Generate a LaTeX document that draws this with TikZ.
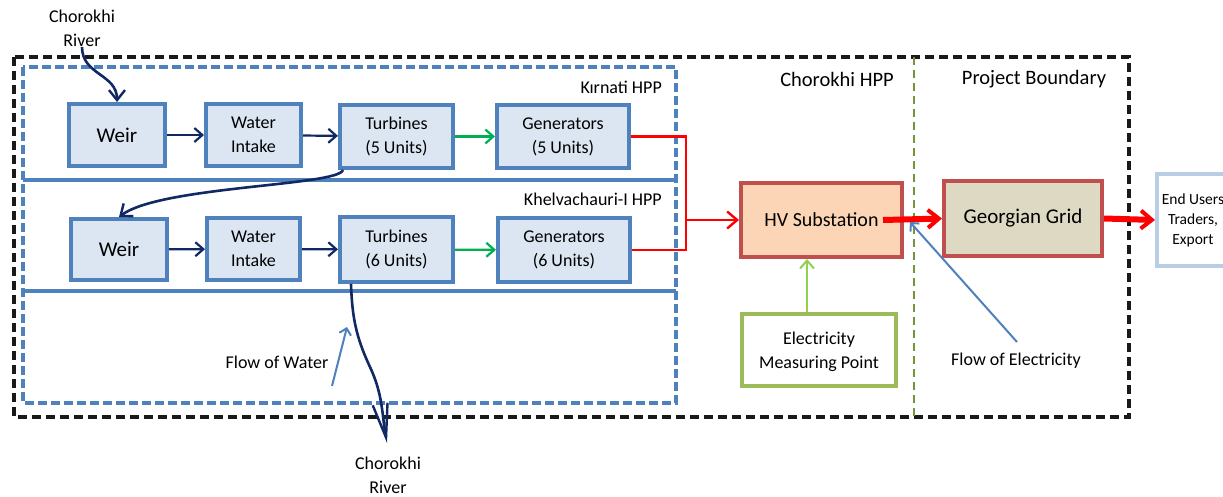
\documentclass[tikz,border=0pt]{standalone}
\usepackage{fontspec}
\setmainfont{Carlito}
\usetikzlibrary{arrows.meta}
\definecolor{boxblue}{HTML}{4F81BD}
\definecolor{boxfill}{HTML}{DCE6F2}
\definecolor{navy}{RGB}{16,40,100}
\definecolor{garrow}{HTML}{00B050}
\definecolor{lgarrow}{HTML}{92D050}
\definecolor{hvfill}{HTML}{FBD5B5}
\definecolor{redbrd}{HTML}{C0504D}
\definecolor{gridfill}{HTML}{DDD9C3}
\definecolor{empbrd}{HTML}{9BBB59}
\definecolor{endbrd}{HTML}{B9CDE5}
\definecolor{olivedash}{HTML}{77933C}
\newcommand\fsz[2]{\fontsize{#1}{#2}\selectfont}
\tikzset{
  pbox/.style={draw=boxblue, fill=boxfill, line width=4pt, align=center, inner sep=0pt, font=\fsz{18}{24}},
  lbl/.style={inner sep=0pt, align=center, font=\fsz{18}{24}},
  navyarrow/.style={draw=navy, line width=2.2pt, -{Straight Barb[length=8pt,width=14pt,line width=2.2pt]}},
  greenarrow/.style={draw=garrow, line width=2.2pt, -{Straight Barb[length=8pt,width=14pt,line width=2.2pt]}},
  river/.style={draw=navy, line width=2.6pt},
  redthin/.style={draw=red, line width=2.4pt},
  redthick/.style={draw=red, line width=6pt, -{Straight Barb[length=11pt,width=18pt,line width=4pt]}},
  flowarrow/.style={draw=boxblue, line width=2pt, -{Straight Barb[length=6pt,width=12pt,line width=2pt]}},
}
\begin{document}
\begin{tikzpicture}[x=1pt,y=-1pt]
\clip (0,0) rectangle (1223,497);
\fill[white] (0,0) rectangle (1223,497);

% boundaries
\draw[black!90, line width=3.6pt, dash pattern=on 9pt off 5pt] (14,57) rectangle (1129,417);
\draw[olivedash, line width=2.8pt, dash pattern=on 8pt off 5pt] (914,57) -- (914,417);
\draw[boxblue, line width=4pt, dash pattern=on 9pt off 4pt] (23,67) rectangle (676,403);
\draw[boxblue, line width=4pt] (23,180) -- (676,180);
\draw[boxblue, line width=4pt] (23,291) -- (676,291);

% labels of areas
\node[lbl, anchor=east] (kirnati) at (662,87) {Kırnati HPP};
\node[lbl, anchor=east] (khelva) at (662,199) {Khelvachauri-I HPP};
\node[lbl, font=\fsz{20.5}{24}] (chpp) at (837,79) {Chorokhi HPP};
\node[lbl, font=\fsz{20.5}{24}] (pb) at (1034,79) {Project Boundary};

% row A
\node[pbox, minimum width=96pt, minimum height=62pt, font=\fsz{21}{24}] (weirA) at (117,135) {Weir};
\node[pbox, minimum width=95pt, minimum height=62pt] (wiA) at (253.5,135) {Water\\Intake};
\node[pbox, minimum width=113pt, minimum height=63pt] (turA) at (396.5,136.5) {Turbines\\(5 Units)};
\node[pbox, minimum width=132pt, minimum height=63pt] (genA) at (563,136.5) {Generators\\(5 Units)};
% row B
\node[pbox, minimum width=96pt, minimum height=61pt, font=\fsz{21}{24}] (weirB) at (119,249.5) {Weir};
\node[pbox, minimum width=93pt, minimum height=62pt] (wiB) at (253.5,249) {Water\\Intake};
\node[pbox, minimum width=113pt, minimum height=65pt] (turB) at (396.5,249.5) {Turbines\\(6 Units)};
\node[pbox, minimum width=132pt, minimum height=64pt] (genB) at (564,250) {Generators\\(6 Units)};

% right side
\node[draw=redbrd, fill=hvfill, line width=4pt, minimum width=161pt, minimum height=74pt, inner sep=0pt, font=\fsz{20}{24}] (hv) at (821.5,220) {HV Substation};
\node[draw=redbrd, fill=gridfill, line width=4pt, minimum width=158pt, minimum height=75pt, inner sep=0pt, font=\fsz{21}{24}] (grid) at (1023,218.5) {Georgian Grid};
\node[draw=empbrd, fill=white, line width=4pt, minimum width=154pt, minimum height=72pt, inner sep=0pt, align=center, font=\fsz{18}{24}] (emp) at (819,350) {\strut Electricity\\Measuring Point};
\node[draw=endbrd, fill=white, line width=4pt, minimum width=110pt, minimum height=92pt, inner sep=0pt] (endu) at (1212,220) {};
\node[lbl, font=\fsz{15.5}{20}] (endtxt) at (1193,220) {End Users\\Traders,\\Export};

% river labels
\node[lbl] (rivtop) at (82,28) {Chorokhi\\River};
\node[lbl] (rivbot) at (388,475) {Chorokhi\\River};
\node[lbl] (fwater) at (277,362) {Flow of Water};
\node[lbl] (felec) at (1016,361) {Flow of Electricity};

% water flow connectors
\draw[navyarrow] (weirA) -- (wiA);
\draw[navyarrow] (wiA) -- (turA);
\draw[greenarrow] (turA) -- (genA);
\draw[navyarrow] (weirB) -- (wiB);
\draw[navyarrow] (wiB) -- (turB);
\draw[greenarrow] (turB) -- (genB);

\coordinate (rin) at (82,47);
\draw[river, -{Straight Barb[length=10pt,width=16pt,line width=2.4pt]}] (rin) to[out=-90,in=90, looseness=1.1] (weirA.north);
\coordinate (tA) at (343,170);
\draw[river, -{Straight Barb[length=10pt,width=16pt,line width=2.4pt]}] (tA) .. controls (338,186) and (160,186) .. (weirB.north);
\coordinate (tB) at (351,284);
\coordinate (rmid) at (370,367);
\coordinate (rout) at (387,443);
\draw[river, -{Straight Barb[length=34pt,width=15pt,line width=2.4pt]}] (tB) to[out=-88,in=115] (rmid) to[out=-65,in=100] (rout);

% electricity connectors
\coordinate (j) at (686,220);
\draw[redthin] (genA.east) -| (j) |- (genB.east);
\draw[redthin, -{Straight Barb[length=10pt,width=17pt,line width=2.4pt]}] (j) -- (hv.west);
\draw[redthick] ([xshift=-21pt]hv.east) -- (grid.west);
\draw[redthick] (grid.east) -- (endu.west);
\draw[draw=lgarrow, line width=2pt, -{Straight Barb[length=8pt,width=14pt,line width=2pt]}] (emp.north -| 807,0) -- (hv.south -| 807,0);

% flow labels arrows
\coordinate (fw1) at (332,386);
\coordinate (fw2) at (347,327);
\draw[flowarrow] (fw1) -- (fw2);
\coordinate (fe1) at (1017,342);
\coordinate (fe2) at (910,222);
\draw[flowarrow] (fe1) -- (fe2);
\end{tikzpicture}
\end{document}
